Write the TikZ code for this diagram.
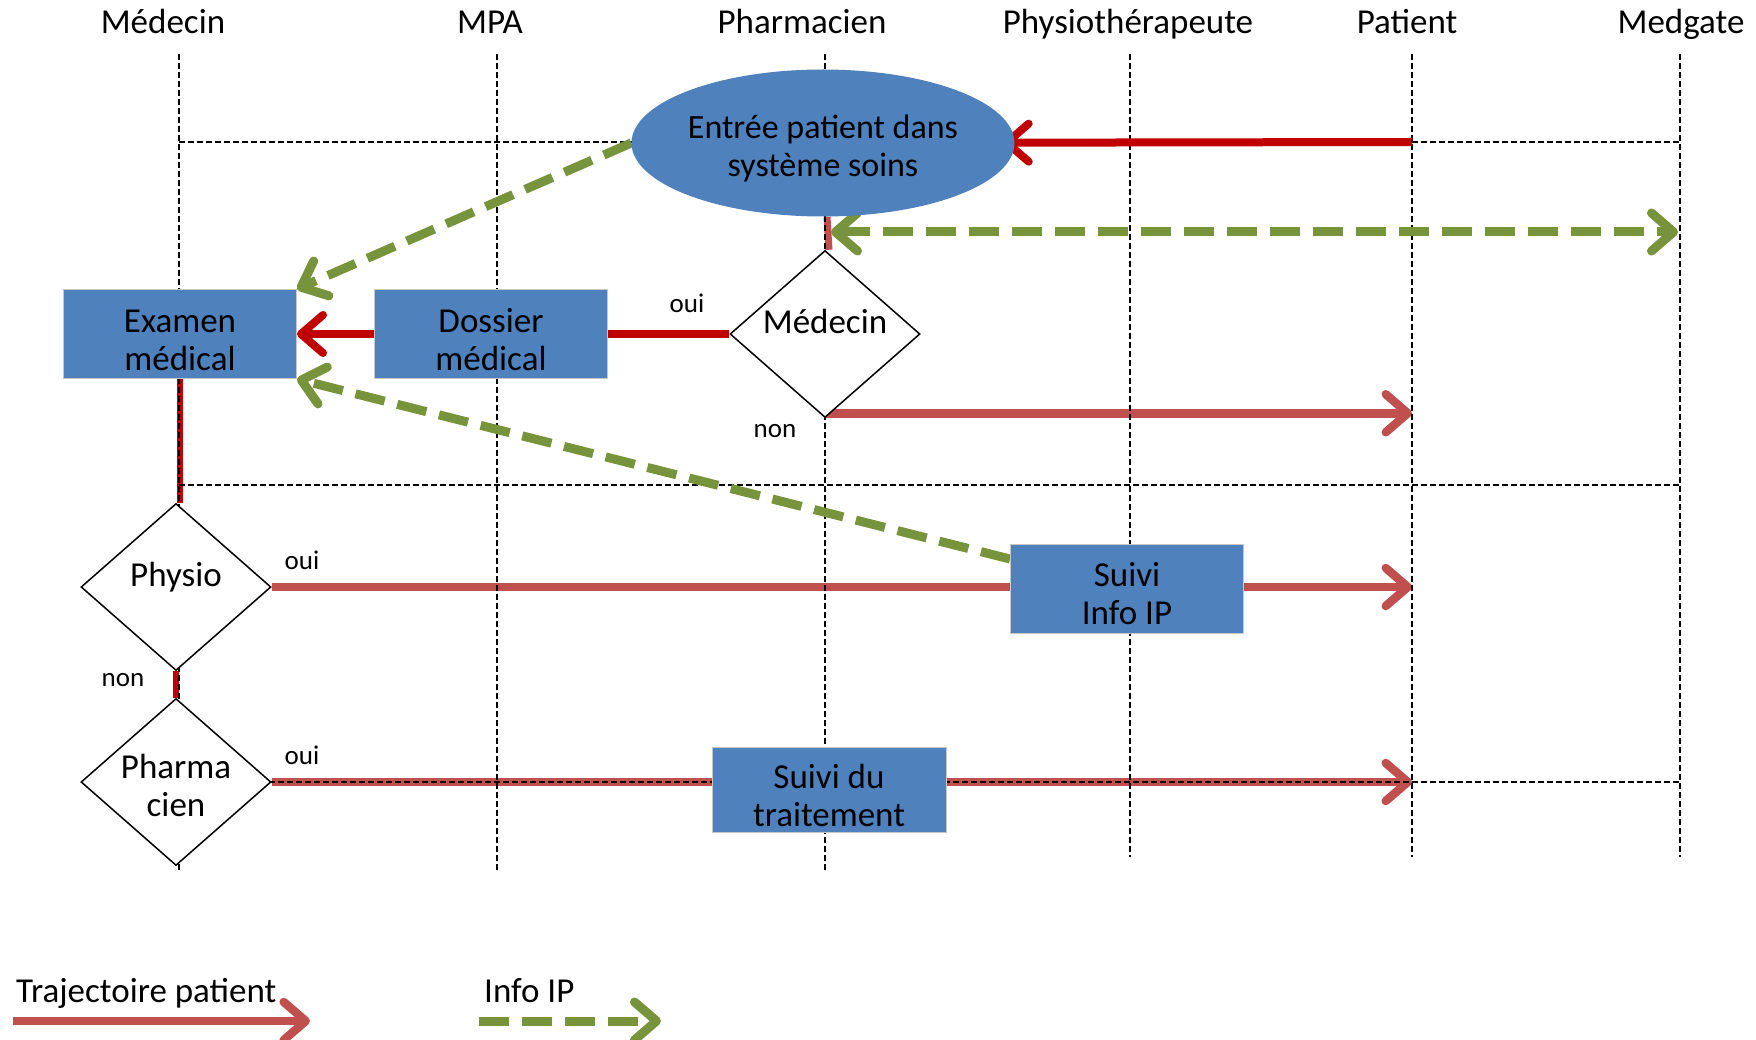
\documentclass[tikz,border=0pt]{standalone}
\usepackage{fontspec}
\setmainfont{Carlito}
\usetikzlibrary{arrows.meta,shapes.geometric}
\pgfdeclarelayer{bg}
\pgfdeclarelayer{gridl}
\pgfdeclarelayer{mid}
\pgfsetlayers{bg,gridl,mid,main}
\definecolor{boxblue}{HTML}{4F81BD}
\definecolor{dred}{HTML}{C00000}
\definecolor{lred}{HTML}{C0504D}
\definecolor{ogreen}{HTML}{77933C}
\newcommand{\boxtxt}[2]{\raisebox{#1}[0pt][0pt]{\makebox[0pt]{\begin{tabular}{@{}c@{}}#2\end{tabular}}}}
\tikzset{
  hdr/.style={font=\fontsize{35}{38}\selectfont, inner sep=0pt, anchor=base},
  lbl/.style={font=\fontsize{27}{30}\selectfont, inner sep=0pt},
  bluebox/.style={rectangle, fill=boxblue, draw=black!22, line width=1pt,
    minimum width=233pt, minimum height=89pt, inner sep=0pt,
    font=\fontsize{35}{38}\selectfont},
  decision/.style={diamond, fill=white, draw=black, line width=1.5pt, inner sep=0pt,
    minimum width=190pt, minimum height=167pt, aspect=1.14,
    font=\fontsize{35}{38}\selectfont},
  gridline/.style={line width=1.3pt, dash pattern=on 6pt off 3pt},
  chev/.style={-{Straight Barb[length=22pt,width=38pt,line cap=round,line join=round]}},
  chevboth/.style={{Straight Barb[length=22pt,width=38pt,line cap=round,line join=round]}-{Straight Barb[length=22pt,width=38pt,line cap=round,line join=round]}},
  redA/.style={draw=dred, line width=8pt},
  redB/.style={draw=lred, line width=8.5pt},
  info/.style={draw=ogreen, line width=9pt, dash pattern=on 30pt off 13pt},
}
\begin{document}
\begin{tikzpicture}[x=1pt,y=-1pt]
\useasboundingbox (0,0) rectangle (1756,1040);

% headers
\node[hdr] (hMed) at (163,34) {Médecin};
\node[hdr] (hMPA) at (490,34) {MPA};
\node[hdr] (hPha) at (802,34) {Pharmacien};
\node[hdr] (hPhy) at (1128,34) {Physiothérapeute};
\node[hdr] (hPat) at (1407,34) {Patient};
\node[hdr] (hMdg) at (1681,34) {Medgate};

% nodes
\node[ellipse, fill=boxblue, minimum width=383pt, minimum height=147pt, inner sep=0pt,
  font=\fontsize{34}{38}\selectfont] (entree) at (823,143) {\boxtxt{-12.75pt}{Entrée patient dans\\système soins}};
\node[decision] (medd) at (825,334) {\boxtxt{1.8pt}{Médecin}};
\node[bluebox] (examen) at (180,334) {\boxtxt{-16pt}{Examen\\médical}};
\node[bluebox] (dossier) at (491,334) {\boxtxt{-16pt}{Dossier\\médical}};
\node[decision] (physio) at (176,587) {\boxtxt{2.3pt}{Physio}};
\node[decision] (pharma) at (176,782) {\boxtxt{-14pt}{Pharma\\cien}};
\node[bluebox] (suiviIP) at (1127,589) {\boxtxt{-15.5pt}{Suivi\\Info IP}};
\node[bluebox, minimum height=85pt, minimum width=234pt] (suiviT) at (829,790) {\boxtxt{-16.5pt}{Suivi du\\traitement}};

% labels
\node[lbl] (o1) at (687,303) {oui};
\node[lbl] (n1) at (775,431) {non};
\node[lbl] (o2) at (302,560) {oui};
\node[lbl] (n2) at (123,680) {non};
\node[lbl] (o3) at (302,755) {oui};

% free ends
\coordinate (pTop) at (1412,142);
\coordinate (pNon) at (1412,411);
\coordinate (pPhys) at (1412,587);
\coordinate (pPharm) at (1412,782);
\coordinate (gL) at (831,232);
\coordinate (gR) at (1678,232);

% legend
\node[hdr, anchor=base west] (legT) at (16,1002) {Trajectoire patient};
\node[hdr, anchor=base west] (legI) at (484,1002) {Info IP};
\coordinate (lr1) at (13,1021);
\coordinate (lr2) at (310,1021);
\coordinate (lg1) at (479,1021);
\coordinate (lg2) at (661,1021);

\begin{pgfonlayer}{bg}
  \draw[redA, line width=6.5pt] (examen.south) -- (examen.south |- physio.north);
  \draw[redA, line width=6.5pt] (physio.south) -- (pharma.north);
  \draw[redB, line width=7pt] ([xshift=4pt]entree.south) -- ([xshift=4pt]medd.north);
  \draw[redA] (medd.west) -- (dossier.east);
  \draw[redA,chev] (dossier.west) -- (examen.east);
  \draw[redB,chev] ([yshift=5pt]medd.south) -- ([yshift=5pt]medd.south -| pNon);
  \draw[redB] (physio.east) -- (physio.east -| suiviIP.west);
  \draw[redB,chev] (physio.east -| suiviIP.east) -- (pPhys);
  \draw[redB] (pharma.east) -- (pharma.east -| suiviT.west);
  \draw[redB,chev] (pharma.east -| suiviT.east) -- (pPharm);
  \draw[redB,chev] (lr1) -- (lr2);
\end{pgfonlayer}

\begin{pgfonlayer}{gridl}
  \foreach \x in {179,497,825} \draw[gridline] (\x,54) -- (\x,871);
  \foreach \x in {1130,1412,1680} \draw[gridline] (\x,54) -- (\x,857);
  \foreach \y in {142,485,782} \draw[gridline] (179,\y) -- (1680,\y);
\end{pgfonlayer}

\begin{pgfonlayer}{mid}
  \draw[redA,chev,shorten >=-12pt] (pTop) -- (entree);
  \draw[info,chev] (entree.west) -- (examen.north east);
  \draw[info,chev] ([yshift=-15pt]suiviIP.north west) -- (examen.south east);
  \draw[info,chevboth] (gL) -- (gR);
  \draw[info,chev] (lg1) -- (lg2);
\end{pgfonlayer}
\end{tikzpicture}
\end{document}
